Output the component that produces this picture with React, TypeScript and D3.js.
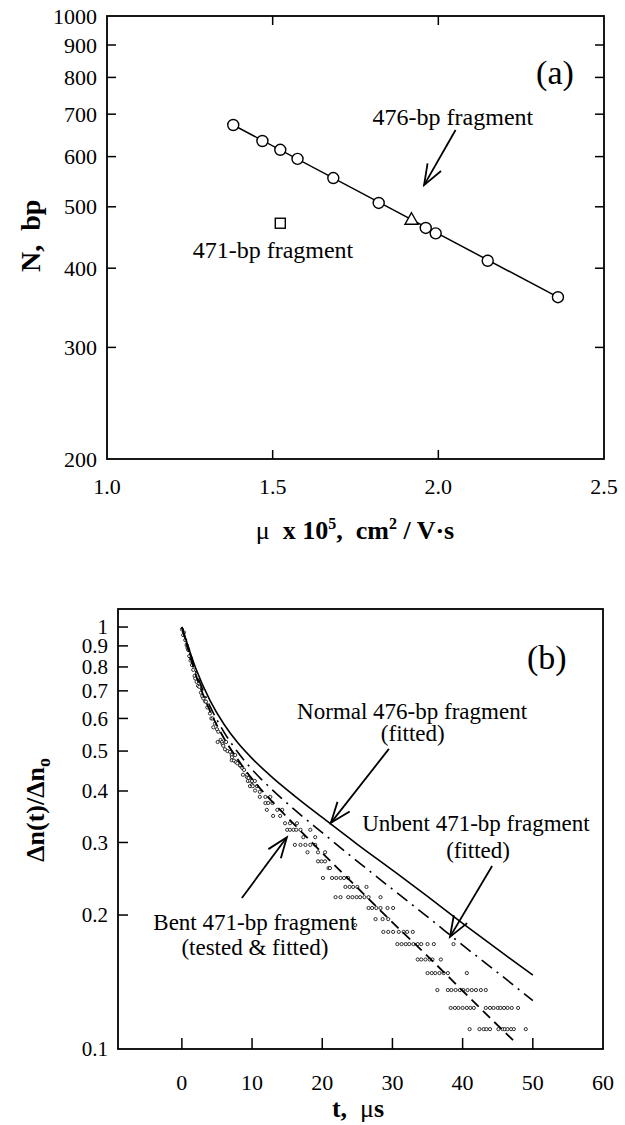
import React from "react";
import * as d3 from "d3";

// panel (a): mobility vs fragment size
const muValues = [1.381, 1.469, 1.523, 1.575, 1.683, 1.82, 1.962, 1.992, 2.149, 2.361];
const sizeValues = [673, 635, 615, 595, 555, 507, 463, 454, 411, 360];
const fitMu = [1.381, 2.361];
const fitSize = [673, 360];
const frag476 = [1.919, 477];
const frag471 = [1.523, 471];
const xTicksA = [1.0, 1.5, 2.0, 2.5];
const yTicksA = [200, 300, 400, 500, 600, 700, 800, 900, 1000];

// panel (b): decay curves
const fitT = [0, 2, 4, 6, 8, 10, 13, 16, 20, 25, 30, 35, 40, 45, 50];
const normal476 = [1, 0.792, 0.664, 0.581, 0.523, 0.48, 0.43, 0.39, 0.345, 0.297, 0.257, 0.222, 0.191, 0.165, 0.143];
const unbent471 = [1, 0.778, 0.643, 0.556, 0.496, 0.451, 0.401, 0.361, 0.317, 0.27, 0.231, 0.198, 0.169, 0.145, 0.124];
const bentT = [0, 2, 4, 6, 8, 10, 13, 16, 20, 25, 30, 35, 40, 45, 47.7];
const bent471 = [1, 0.765, 0.626, 0.537, 0.476, 0.428, 0.375, 0.332, 0.283, 0.233, 0.192, 0.159, 0.131, 0.108, 0.0975];

// measured bent 471-bp signal (t, value)
const measured: [number, number][] = [
  [0.0, 0.987], [0.19, 0.956], [0.3, 0.97], [0.48, 0.93], [0.67, 0.904], [0.8, 0.89], [0.9, 0.88],
  [1.05, 0.85], [1.24, 0.829], [1.3, 0.84], [1.43, 0.809], [1.62, 0.787], [1.81, 0.761], [1.9, 0.75],
  [2.1, 0.736], [2.3, 0.72], [2.48, 0.716], [2.71, 0.693], [2.9, 0.68], [3.05, 0.671], [3.3, 0.66],
  [3.43, 0.659], [3.62, 0.638], [4.0, 0.617], [4.2, 0.6], [4.38, 0.6], [4.48, 0.571], [4.71, 0.583],
  [5.0, 0.565], [5.19, 0.557], [5.1, 0.526], [5.52, 0.532], [5.7, 0.526], [5.81, 0.52], [5.9, 0.515],
  [6.14, 0.505], [6.3, 0.526], [6.5, 0.5], [6.86, 0.498], [7.1, 0.489], [7.6, 0.489], [7.1, 0.475],
  [7.14, 0.483], [7.43, 0.474], [7.7, 0.47], [7.9, 0.467], [8.29, 0.461], [8.3, 0.462], [8.6, 0.455],
  [8.7, 0.438], [8.86, 0.45], [9.24, 0.433], [9.3, 0.438], [9.4, 0.423], [9.5, 0.43], [9.71, 0.424],
  [9.7, 0.411], [10.0, 0.414], [10.0, 0.423], [10.1, 0.411], [10.4, 0.423], [10.43, 0.401], [10.7, 0.411],
  [11.1, 0.398], [11.1, 0.387], [11.9, 0.387], [12.6, 0.387], [11.9, 0.374], [12.3, 0.374], [12.9, 0.374],
  [12.1, 0.36], [13.6, 0.36], [14.3, 0.36], [13.0, 0.348], [14.0, 0.348],
  [14.7, 0.334], [15.4, 0.334], [16.4, 0.334],
  [15.0, 0.322], [15.4, 0.322], [15.9, 0.322], [16.3, 0.322], [16.9, 0.322], [18.3, 0.322],
  [17.3, 0.309], [19.0, 0.309],
  [16.1, 0.296], [16.9, 0.296], [17.6, 0.296], [18.3, 0.296], [19.0, 0.296],
  [17.9, 0.284], [19.4, 0.284], [20.4, 0.284],
  [19.4, 0.27], [19.9, 0.27], [20.4, 0.27],
  [20.9, 0.26], [21.1, 0.26],
  [20.1, 0.246], [21.4, 0.246], [22.0, 0.246], [22.6, 0.246], [23.1, 0.246], [23.7, 0.246],
  [23.3, 0.234], [23.9, 0.234], [24.4, 0.234], [25.0, 0.234], [26.3, 0.234],
  [21.9, 0.221], [22.6, 0.221], [23.7, 0.221], [24.3, 0.221], [24.9, 0.221], [25.4, 0.221],
  [26.0, 0.221], [26.6, 0.221], [28.3, 0.221],
  [26.6, 0.208], [27.1, 0.208], [27.7, 0.208], [28.3, 0.208], [29.3, 0.208], [30.1, 0.208],
  [27.6, 0.1955], [28.6, 0.1955], [29.4, 0.1955], [24.7, 0.189],
  [28.7, 0.182], [29.4, 0.182], [30.1, 0.182], [30.9, 0.182], [31.6, 0.182], [32.1, 0.182], [32.9, 0.182],
  [30.7, 0.17], [31.3, 0.17], [31.9, 0.17], [32.4, 0.17], [33.0, 0.17], [33.6, 0.17], [34.1, 0.17],
  [35.0, 0.17], [35.9, 0.17], [38.7, 0.17],
  [33.6, 0.156], [34.1, 0.156], [34.7, 0.156], [35.3, 0.156], [35.7, 0.156], [36.9, 0.156],
  [35.0, 0.1446], [35.6, 0.1446], [36.1, 0.1446], [36.7, 0.1446], [37.3, 0.1446], [37.9, 0.1446], [40.6, 0.1446],
  [36.4, 0.1315], [37.9, 0.1315], [38.4, 0.1315], [39.0, 0.1315], [39.6, 0.1315], [40.1, 0.1315],
  [40.7, 0.1315], [41.3, 0.1315], [41.9, 0.1315], [42.6, 0.1315], [43.3, 0.1315],
  [38.3, 0.119], [38.9, 0.119], [39.4, 0.119], [40.0, 0.119], [40.6, 0.119], [41.1, 0.119], [41.6, 0.119],
  [43.3, 0.119], [43.9, 0.119], [44.4, 0.119], [45.0, 0.119], [45.4, 0.119], [45.9, 0.119], [46.4, 0.119],
  [47.0, 0.119], [47.9, 0.119],
  [41.0, 0.1057], [42.4, 0.1057], [43.0, 0.1057], [43.4, 0.1057], [43.9, 0.1057], [45.1, 0.1057],
  [45.7, 0.1057], [46.0, 0.1057], [46.4, 0.1057], [46.9, 0.1057], [47.3, 0.1057], [49.0, 0.1057],
];
const xTicksB = [0, 10, 20, 30, 40, 50, 60];
const yTicksB = [1, 0.9, 0.8, 0.7, 0.6, 0.5, 0.4, 0.3, 0.2];

const serif = "'Liberation Serif', 'Times New Roman', serif";

const xA = d3.scaleLinear().domain([1, 2.5]).range([107, 604]);
const yA = d3.scaleLog().domain([200, 1000]).range([459, 16]);
const xB = d3.scaleLinear().domain([-9.1, 60]).range([118, 603]);
const yB = d3.scaleLog().domain([0.0946, 1.106]).range([1049, 609]);

const Arrow = ({ x1, y1, x2, y2, len = 22, ang = 0.36 }) => {
  const a = Math.atan2(y1 - y2, x1 - x2);
  const h1 = [x2 + len * Math.cos(a + ang), y2 + len * Math.sin(a + ang)];
  const h2 = [x2 + len * Math.cos(a - ang), y2 + len * Math.sin(a - ang)];
  return (
    <g stroke="#000" strokeWidth={1.8} fill="none">
      <line x1={x1} y1={y1} x2={x2} y2={y2} />
      <polyline points={`${h1[0]},${h1[1]} ${x2},${y2} ${h2[0]},${h2[1]}`} />
    </g>
  );
};

const App = () => {
  const lineA = d3.line<number>().x((d, i) => xA(fitMu[i])).y((d) => yA(d));
  const curveB = (ts: number[]) =>
    d3.line<number>().x((d, i) => xB(ts[i])).y((d) => yB(d)).curve(d3.curveMonotoneX);

  const [xa0, xa1] = xA.range();
  const [ya0, ya1] = yA.range();
  const [xb0, xb1] = xB.range();
  const [yb0, yb1] = yB.range();

  return (
    <svg width={625} height={1125} style={{ position: "absolute", left: 0, top: 0, background: "#fff" }}
      fontFamily={serif}>
      {/* ---------- panel (a) ---------- */}
      <rect x={xa0} y={ya1} width={xa1 - xa0} height={ya0 - ya1} fill="none" stroke="#000" strokeWidth={1.8} />
      {yTicksA.slice(1, -1).map((v) => (
        <g key={v} stroke="#000" strokeWidth={1.5}>
          <line x1={xa0} x2={xa0 + 9} y1={yA(v)} y2={yA(v)} />
          <line x1={xa1} x2={xa1 - 9} y1={yA(v)} y2={yA(v)} />
        </g>
      ))}
      {xTicksA.slice(1, -1).map((v) => (
        <g key={v} stroke="#000" strokeWidth={1.5}>
          <line x1={xA(v)} x2={xA(v)} y1={ya0} y2={ya0 - 9} />
          <line x1={xA(v)} x2={xA(v)} y1={ya1} y2={ya1 + 9} />
        </g>
      ))}
      {yTicksA.map((v) => (
        <text key={v} x={xa0 - 10} y={yA(v)} dy="0.35em" textAnchor="end" fontSize={22}>{v}</text>
      ))}
      {xTicksA.map((v) => (
        <text key={v} x={xA(v)} y={ya0 + 27} dy="0.35em" textAnchor="middle" fontSize={22}>{v.toFixed(1)}</text>
      ))}
      <path d={lineA(fitSize) ?? ""} fill="none" stroke="#000" strokeWidth={1.5} />
      {muValues.map((m, i) => (
        <circle key={i} cx={xA(m)} cy={yA(sizeValues[i])} r={5.5} fill="#fff" stroke="#000" strokeWidth={1.4} />
      ))}
      <path
        d={`M${xA(frag476[0])},${yA(frag476[1]) - 7} l6.5,11.5 h-13 z`}
        fill="#fff" stroke="#000" strokeWidth={1.4} />
      <rect x={xA(frag471[0]) - 5} y={yA(frag471[1]) - 5} width={10} height={10} fill="#fff" stroke="#000" strokeWidth={1.4} />
      <text x={xA(2.352)} y={yA(816)} dy="0.35em" textAnchor="middle" fontSize={34}>(a)</text>
      <text x={xA(2.044)} y={yA(693)} dy="0.35em" textAnchor="middle" fontSize={24}>476-bp fragment</text>
      <Arrow x1={xA(2.052)} y1={yA(661)} x2={xA(1.957)} y2={yA(541)} />
      <text x={xA(1.501)} y={yA(428)} dy="0.35em" textAnchor="middle" fontSize={24}>471-bp fragment</text>
      <text transform={`translate(30,${yA(450)}) rotate(-90)`} textAnchor="middle" dy="0.35em"
        fontSize={28} fontWeight="bold" style={{ whiteSpace: "pre" }}>N,  bp</text>
      <text x={355} y={ya0 + 80} textAnchor="middle" fontSize={26} fontWeight="bold" style={{ whiteSpace: "pre" }}>
        <tspan fontWeight="normal">μ</tspan>
        <tspan>  x 10</tspan>
        <tspan dy={-10} fontSize={16}>5</tspan>
        <tspan dy={10}>,  cm</tspan>
        <tspan dy={-10} fontSize={16}>2</tspan>
        <tspan dy={10}> / V·s</tspan>
      </text>

      {/* ---------- panel (b) ---------- */}
      <rect x={xb0} y={yb1} width={xb1 - xb0} height={yb0 - yb1} fill="none" stroke="#000" strokeWidth={1.8} />
      {yTicksB.map((v) => (
        <g key={v}>
          <line x1={xb0} x2={xb0 + 10} y1={yB(v)} y2={yB(v)} stroke="#000" strokeWidth={1.5} />
          <text x={xb0 - 10} y={yB(v)} dy="0.35em" textAnchor="end" fontSize={21}>{v}</text>
        </g>
      ))}
      <text x={xb0 - 10} y={yb0} dy="0.35em" textAnchor="end" fontSize={21}>0.1</text>
      {xTicksB.map((v) => (
        <g key={v}>
          {v < 60 && <line x1={xB(v)} x2={xB(v)} y1={yb0} y2={yb0 - 11} stroke="#000" strokeWidth={1.5} />}
          <text x={xB(v)} y={yb0 + 33} dy="0.35em" textAnchor="middle" fontSize={22}>{v}</text>
        </g>
      ))}
      {measured.map(([t, v], i) => (
        <circle key={i} cx={xB(t)} cy={yB(v)} r={1.6} fill="#fff" stroke="#000" strokeWidth={0.8} />
      ))}
      <path d={curveB(fitT)(normal476) ?? ""} fill="none" stroke="#000" strokeWidth={1.6} />
      <path d={curveB(fitT)(unbent471) ?? ""} fill="none" stroke="#000" strokeWidth={1.6} strokeDasharray="13,6,2,6" />
      <path d={curveB(bentT)(bent471) ?? ""} fill="none" stroke="#000" strokeWidth={1.8} strokeDasharray="10,6" />
      <text x={xB(52)} y={yB(0.846)} dy="0.35em" textAnchor="middle" fontSize={34}>(b)</text>
      <text x={xB(32.8)} y={yB(0.625)} dy="0.35em" textAnchor="middle" fontSize={23}>Normal 476-bp fragment</text>
      <text x={xB(32.9)} y={yB(0.553)} dy="0.35em" textAnchor="middle" fontSize={23}>(fitted)</text>
      <Arrow x1={xB(29.5)} y1={yB(0.506)} x2={xB(21.23)} y2={yB(0.3348)} />
      <text x={xB(41.9)} y={yB(0.3348)} dy="0.35em" textAnchor="middle" fontSize={23}>Unbent 471-bp fragment</text>
      <text x={xB(42.2)} y={yB(0.288)} dy="0.35em" textAnchor="middle" fontSize={23}>(fitted)</text>
      <Arrow x1={xB(44.2)} y1={yB(0.263)} x2={xB(38.2)} y2={yB(0.177)} />
      <text x={xB(10.4)} y={yB(0.192)} dy="0.35em" textAnchor="middle" fontSize={23}>Bent 471-bp fragment</text>
      <text x={xB(10.4)} y={yB(0.167)} dy="0.35em" textAnchor="middle" fontSize={23}>(tested &amp; fitted)</text>
      <Arrow x1={xB(8.55)} y1={yB(0.22)} x2={xB(14.96)} y2={yB(0.309)} />
      <text transform={`translate(35,${yB(0.36)}) rotate(-90)`} textAnchor="middle" dy="0.35em"
        fontSize={26} fontWeight="bold">
        <tspan>Δn(t)/Δn</tspan>
        <tspan dy={6} fontSize={18}>o</tspan>
      </text>
      <text x={358} y={yb0 + 59} dy="0.35em" textAnchor="middle" fontSize={26} fontWeight="bold"
        style={{ whiteSpace: "pre" }}>
        <tspan>t,  </tspan>
        <tspan fontWeight="normal">μ</tspan>
        <tspan>s</tspan>
      </text>
    </svg>
  );
};

export default App;
